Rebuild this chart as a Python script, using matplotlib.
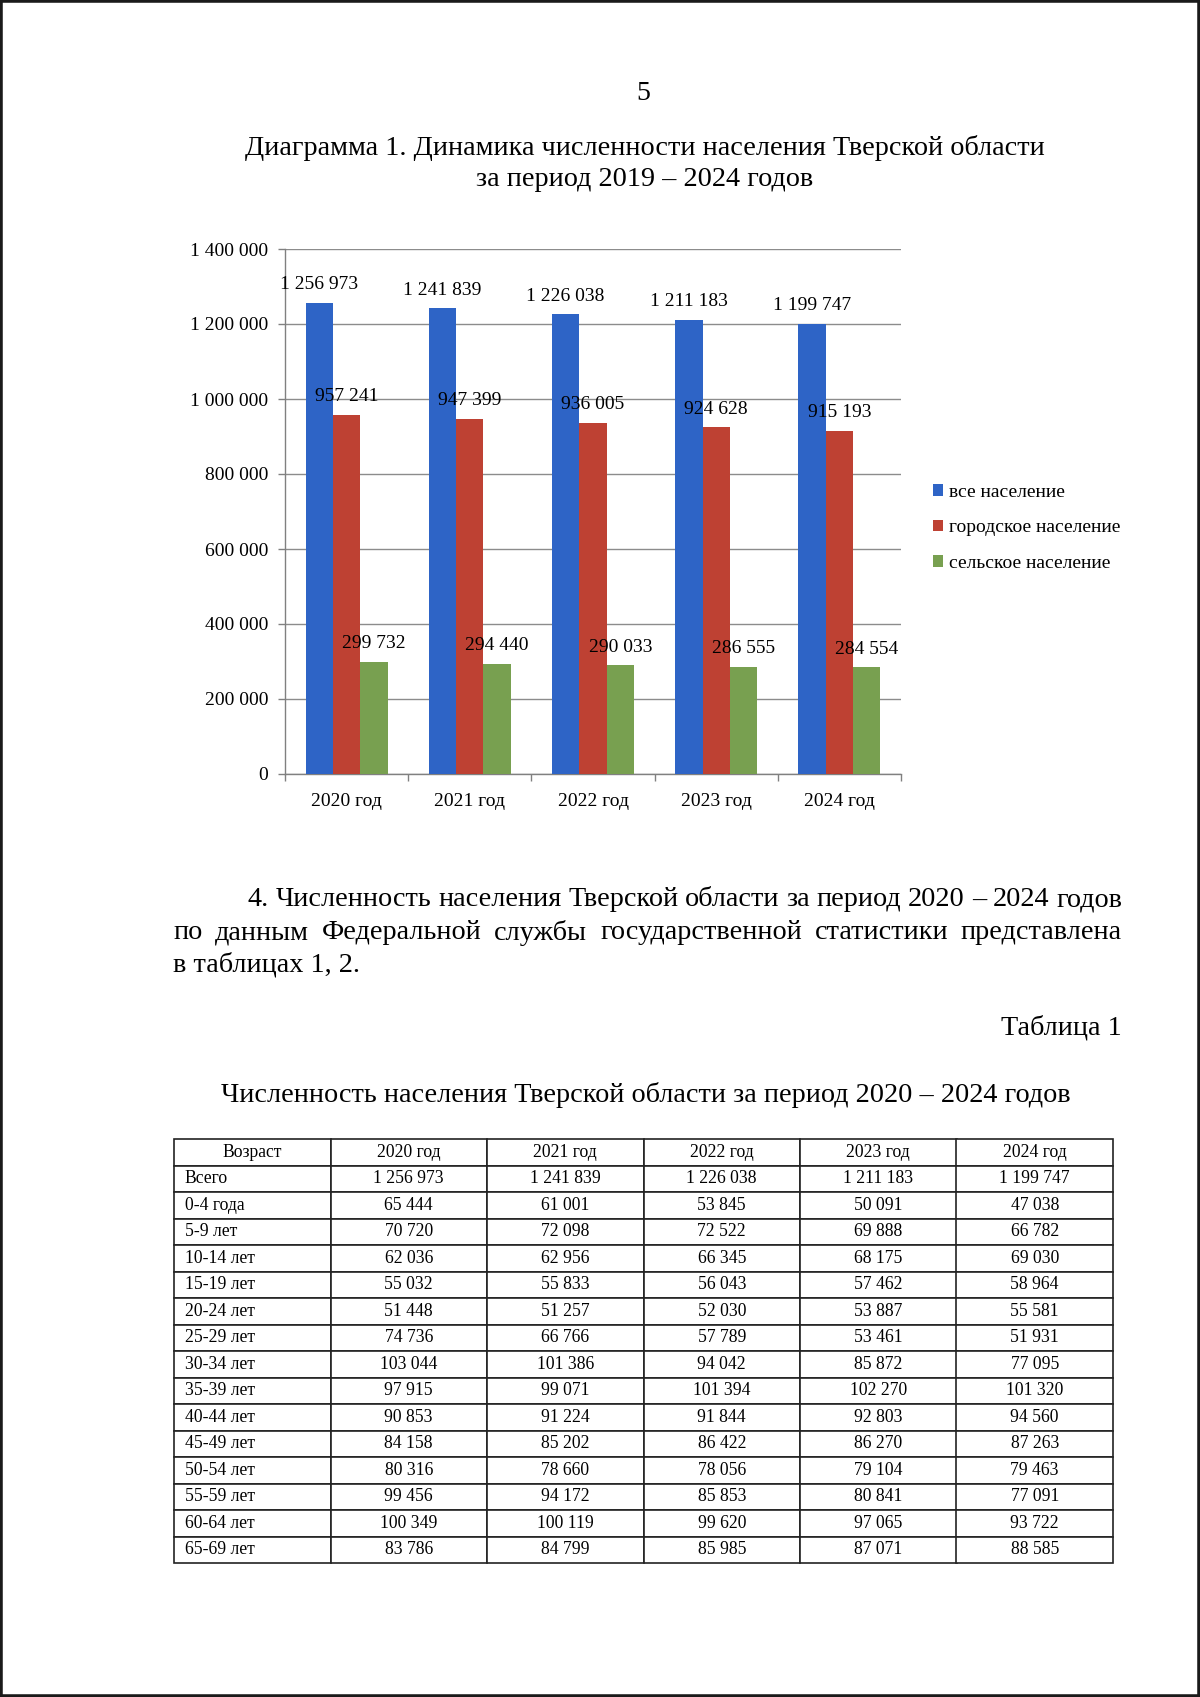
import matplotlib
matplotlib.use("Agg")
import matplotlib.pyplot as plt
from matplotlib.patches import Rectangle
from matplotlib.ticker import FuncFormatter, FixedLocator

plt.rcParams['font.family'] = ['Liberation Serif', 'DejaVu Serif']

W, H = 1200, 1697

# chart data
years = ["2020 год", "2021 год", "2022 год", "2023 год", "2024 год"]
all_pop = [1256973, 1241839, 1226038, 1211183, 1199747]
urban_pop = [957241, 947399, 936005, 924628, 915193]
rural_pop = [299732, 294440, 290033, 286555, 284554]
series_names = ["все население", "городское население", "сельское население"]

# table data
ages = ["0-4 года", "5-9 лет", "10-14 лет", "15-19 лет", "20-24 лет", "25-29 лет",
        "30-34 лет", "35-39 лет", "40-44 лет", "45-49 лет", "50-54 лет",
        "55-59 лет", "60-64 лет", "65-69 лет"]
t2020 = [65444, 70720, 62036, 55032, 51448, 74736, 103044, 97915, 90853, 84158, 80316, 99456, 100349, 83786]
t2021 = [61001, 72098, 62956, 55833, 51257, 66766, 101386, 99071, 91224, 85202, 78660, 94172, 100119, 84799]
t2022 = [53845, 72522, 66345, 56043, 52030, 57789, 94042, 101394, 91844, 86422, 78056, 85853, 99620, 85985]
t2023 = [50091, 69888, 68175, 57462, 53887, 53461, 85872, 102270, 92803, 86270, 79104, 80841, 97065, 87071]
t2024 = [47038, 66782, 69030, 58964, 55581, 51931, 77095, 101320, 94560, 87263, 79463, 77091, 93722, 88585]


def fmt(v):
    return f"{int(v):,}".replace(",", " ")


def fx(x):
    return x / W


def fy(y):
    return 1 - y / H


fig = plt.figure(figsize=(12, 16.97), dpi=100)
fig.patch.set_facecolor("white")

# page header
fig.text(fx(643), fy(93), "5", ha="center", va="center", fontsize=20)
fig.text(fx(645), fy(148), "Диаграмма 1. Динамика численности населения Тверской области",
         ha="center", va="center", fontsize=20.3)
fig.text(fx(645), fy(180), "за период 2019 – 2024 годов", ha="center", va="center", fontsize=20.3)

# chart
ax = fig.add_axes([fx(285), fy(774), (901 - 285) / W, (774 - 249) / H])
colors = ["#2E64C6", "#BE4133", "#78A050"]
bw = 0.222
xs = range(len(years))
for k, (vals, col, name) in enumerate(zip([all_pop, urban_pop, rural_pop], colors, series_names)):
    bars = ax.bar([i + (k - 1) * bw for i in xs], vals, width=bw, color=col, label=name, zorder=3)
    ax.bar_label(bars, labels=[fmt(v) for v in vals], padding=7, fontsize=14)

ax.set_xlim(-0.5, len(years) - 0.5)
ax.set_ylim(0, 1400000)
ax.set_yticks(range(0, 1400001, 200000))
ax.yaxis.set_major_formatter(FuncFormatter(lambda v, p: fmt(v)))
ax.set_xticks(list(xs))
ax.set_xticklabels(years)
ax.xaxis.set_minor_locator(FixedLocator([i - 0.5 for i in range(len(years) + 1)]))
ax.tick_params(axis="x", which="major", length=0, pad=14, labelsize=14)
ax.tick_params(axis="x", which="minor", length=5, color="#808080", width=1)
ax.tick_params(axis="y", length=5, color="#808080", width=1, pad=7, labelsize=14)
ax.grid(axis="y", color="#8c8c8c", linewidth=1, zorder=0)
for s in ["top", "right"]:
    ax.spines[s].set_visible(False)
for s in ["left", "bottom"]:
    ax.spines[s].set_color("#808080")
    ax.spines[s].set_linewidth(1)

ax.legend(loc="upper left", bbox_to_anchor=(fx(925), fy(476)), bbox_transform=fig.transFigure,
          frameon=False, fontsize=14, handlelength=0.55, handleheight=0.55,
          handletextpad=0.3, labelspacing=0.95, borderaxespad=0)

# paragraph text, justified lines
renderer = fig.canvas.get_renderer()


def justify(words, x0, x1, y, size):
    texts = [fig.text(0, fy(y), w, ha="left", va="center", fontsize=size) for w in words]
    widths = [t.get_window_extent(renderer).width for t in texts]
    gap = (x1 - x0 - sum(widths)) / (len(words) - 1)
    x = x0
    for t, w in zip(texts, widths):
        t.set_x(fx(x))
        x += w + gap


body = 20.3
justify("4. Численность населения Тверской области за период 2020 – 2024 годов".split(" "),
        248, 1122, 900, body)
justify("по данным Федеральной службы государственной статистики представлена".split(" "),
        173, 1122, 933, body)
fig.text(fx(173), fy(965), "в таблицах 1, 2.", ha="left", va="center", fontsize=body)
fig.text(fx(1122), fy(1028), "Таблица 1", ha="right", va="center", fontsize=body)
fig.text(fx(646), fy(1095), "Численность населения Тверской области за период 2020 – 2024 годов",
         ha="center", va="center", fontsize=body)

# table
tax = fig.add_axes([fx(174), fy(1563), (1113 - 174) / W, (1563 - 1139) / H])
tax.axis("off")
header = ["Возраст"] + years
rows = [["Всего"] + [fmt(v) for v in all_pop]]
for i, a in enumerate(ages):
    rows.append([a] + [fmt(col[i]) for col in (t2020, t2021, t2022, t2023, t2024)])
tbl = tax.table(cellText=rows, colLabels=header, bbox=[0, 0, 1, 1], cellLoc="center")
tbl.auto_set_font_size(False)
tbl.set_fontsize(12.7)
for (r, c), cell in tbl.get_celld().items():
    cell.set_edgecolor("#222222")
    cell.set_linewidth(1.2)
    if c == 0 and r > 0:
        cell.set_text_props(ha="left")
        cell.PAD = 0.07

# scan border
fig.add_artist(Rectangle((0, 0), 1, 1, transform=fig.transFigure, fill=False,
                         edgecolor="#1a1a1a", linewidth=4))

fig.savefig("out.png", dpi=100)
